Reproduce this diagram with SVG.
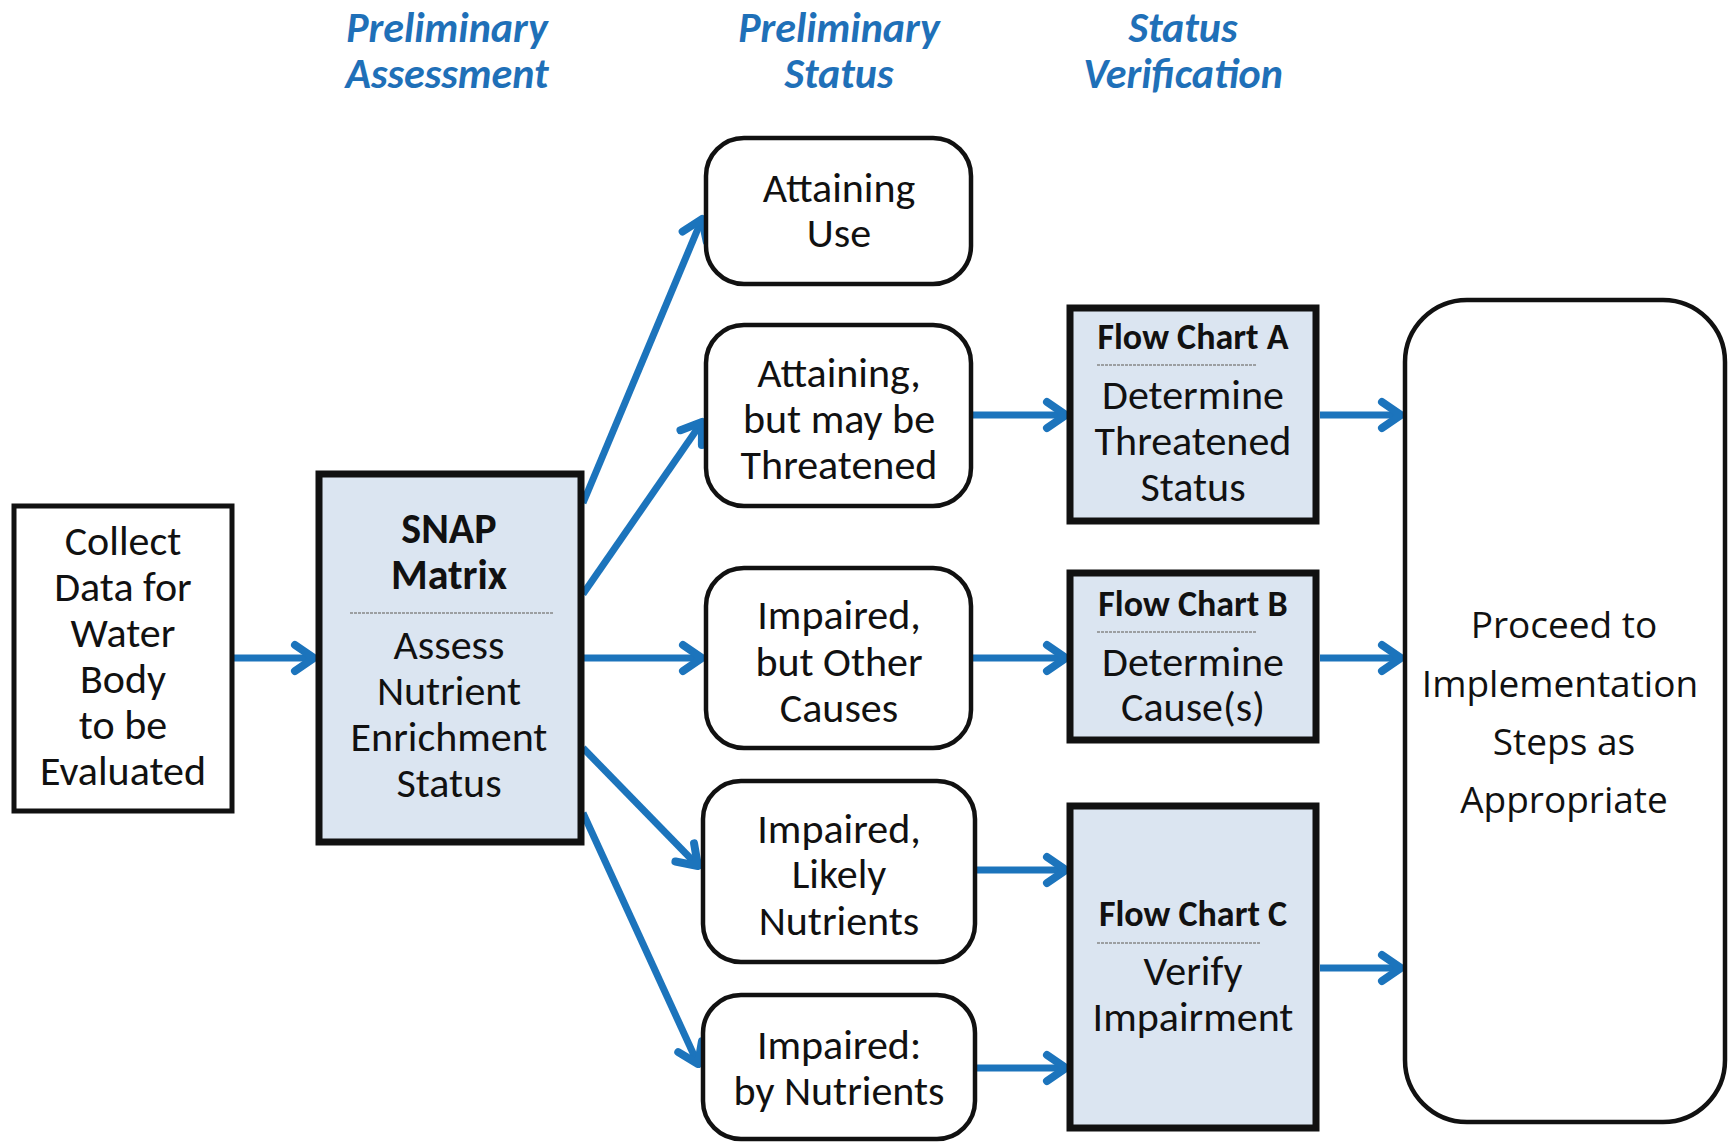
<svg xmlns="http://www.w3.org/2000/svg" width="1735" height="1142" viewBox="0 0 1735 1142">
<style>
.t{font-family:Carlito,Lato,"Liberation Sans",sans-serif;font-size:42px;fill:#111;text-anchor:middle}
.b{font-weight:bold}
.fc{font-size:36px;font-weight:bold}
.h{font-family:Carlito,Lato,"Liberation Sans",sans-serif;font-size:42px;font-weight:bold;font-style:italic;fill:#1f70b8;text-anchor:middle}
.p{font-family:"Open Sans","Noto Sans",sans-serif;font-size:37px;fill:#111;text-anchor:middle}
.sq{fill:#fff;stroke:#111;stroke-width:5}
.blue{fill:#dbe5f1;stroke:#111;stroke-width:7}
.rr{fill:#fff;stroke:#111;stroke-width:4.5}
.dv{stroke:#888;stroke-width:1.5;stroke-dasharray:3 1}
.c{fill:none;stroke:#1c74bc;stroke-width:7;marker-end:url(#ah)}
</style>
<defs>
<marker id="ah" markerUnits="userSpaceOnUse" markerWidth="36" markerHeight="36" refX="24" refY="16" orient="auto" viewBox="0 0 36 32">
<path d="M5,3 L24,16 L5,29" fill="none" stroke="#1c74bc" stroke-width="8" stroke-linecap="round" stroke-linejoin="round"/>
</marker>
</defs>
<rect width="1735" height="1142" fill="#fff"/>
<g id="headers">
<text class="h" x="447" y="42">Preliminary</text>
<text class="h" x="447" y="88">Assessment</text>
<text class="h" x="839" y="42">Preliminary</text>
<text class="h" x="839" y="88">Status</text>
<text class="h" x="1183" y="42">Status</text>
<text class="h" x="1183" y="88">Verification</text>
</g>
<g id="connectors">
<line class="c" x1="232" y1="658" x2="314" y2="658"/>
<line class="c" x1="583" y1="503" x2="702" y2="219"/>
<line class="c" x1="583" y1="594" x2="702" y2="422"/>
<line class="c" x1="583" y1="658" x2="702" y2="658"/>
<line class="c" x1="583" y1="748" x2="698" y2="866"/>
<line class="c" x1="583" y1="813" x2="698" y2="1064"/>
<line class="c" x1="971" y1="415" x2="1066" y2="415"/>
<line class="c" x1="971" y1="658" x2="1066" y2="658"/>
<line class="c" x1="975" y1="870" x2="1066" y2="870"/>
<line class="c" x1="975" y1="1068" x2="1066" y2="1068"/>
<line class="c" x1="1320" y1="415" x2="1401" y2="415"/>
<line class="c" x1="1320" y1="658" x2="1401" y2="658"/>
<line class="c" x1="1320" y1="968" x2="1401" y2="968"/>
</g>
<g id="collect">
<rect class="sq" x="14" y="506" width="218" height="305"/>
<text class="t" x="123" y="555">Collect</text>
<text class="t" x="123" y="601">Data for</text>
<text class="t" x="123" y="647">Water</text>
<text class="t" x="123" y="693">Body</text>
<text class="t" x="123" y="739">to be</text>
<text class="t" x="123" y="785">Evaluated</text>
</g>
<g id="snap">
<rect class="blue" x="319" y="474" width="262" height="368"/>
<text class="t b" x="449" y="543">SNAP</text>
<text class="t b" x="449" y="589">Matrix</text>
<line class="dv" x1="350" y1="613" x2="554" y2="613"/>
<text class="t" x="449" y="659">Assess</text>
<text class="t" x="449" y="705">Nutrient</text>
<text class="t" x="449" y="751">Enrichment</text>
<text class="t" x="449" y="797">Status</text>
</g>
<g id="attaining-use">
<rect class="rr" x="706" y="138" width="265" height="146" rx="38"/>
<text class="t" x="839" y="202">Attaining</text>
<text class="t" x="839" y="247">Use</text>
</g>
<g id="attaining-threatened">
<rect class="rr" x="706" y="325" width="265" height="181" rx="38"/>
<text class="t" x="839" y="387">Attaining,</text>
<text class="t" x="839" y="433">but may be</text>
<text class="t" x="839" y="479">Threatened</text>
</g>
<g id="impaired-other">
<rect class="rr" x="706" y="568" width="265" height="180" rx="38"/>
<text class="t" x="839" y="629">Impaired,</text>
<text class="t" x="839" y="676">but Other</text>
<text class="t" x="839" y="722">Causes</text>
</g>
<g id="impaired-likely">
<rect class="rr" x="703" y="781" width="272" height="181" rx="38"/>
<text class="t" x="839" y="843">Impaired,</text>
<text class="t" x="839" y="888">Likely</text>
<text class="t" x="839" y="935">Nutrients</text>
</g>
<g id="impaired-by">
<rect class="rr" x="703" y="995" width="272" height="144" rx="38"/>
<text class="t" x="839" y="1059">Impaired:</text>
<text class="t" x="839" y="1105">by Nutrients</text>
</g>
<g id="flow-a">
<rect class="blue" x="1070" y="308" width="246" height="213"/>
<text class="t fc" x="1193" y="349">Flow Chart A</text>
<line class="dv" x1="1097" y1="365" x2="1257" y2="365"/>
<text class="t" x="1193" y="409">Determine</text>
<text class="t" x="1193" y="455">Threatened</text>
<text class="t" x="1193" y="501">Status</text>
</g>
<g id="flow-b">
<rect class="blue" x="1070" y="573" width="246" height="167"/>
<text class="t fc" x="1193" y="616">Flow Chart B</text>
<line class="dv" x1="1097" y1="632" x2="1257" y2="632"/>
<text class="t" x="1193" y="676">Determine</text>
<text class="t" x="1193" y="721">Cause(s)</text>
</g>
<g id="flow-c">
<rect class="blue" x="1070" y="806" width="246" height="322"/>
<text class="t fc" x="1193" y="926">Flow Chart C</text>
<line class="dv" x1="1097" y1="943" x2="1260" y2="943"/>
<text class="t" x="1193" y="985">Verify</text>
<text class="t" x="1193" y="1031">Impairment</text>
</g>
<g id="proceed">
<rect class="rr" x="1405" y="300" width="320" height="822" rx="62"/>
<text class="p" x="1564" y="638">Proceed to</text>
<text class="p" x="1560" y="697">Implementation</text>
<text class="p" x="1564" y="755">Steps as</text>
<text class="p" x="1564" y="813">Appropriate</text>
</g>
</svg>
